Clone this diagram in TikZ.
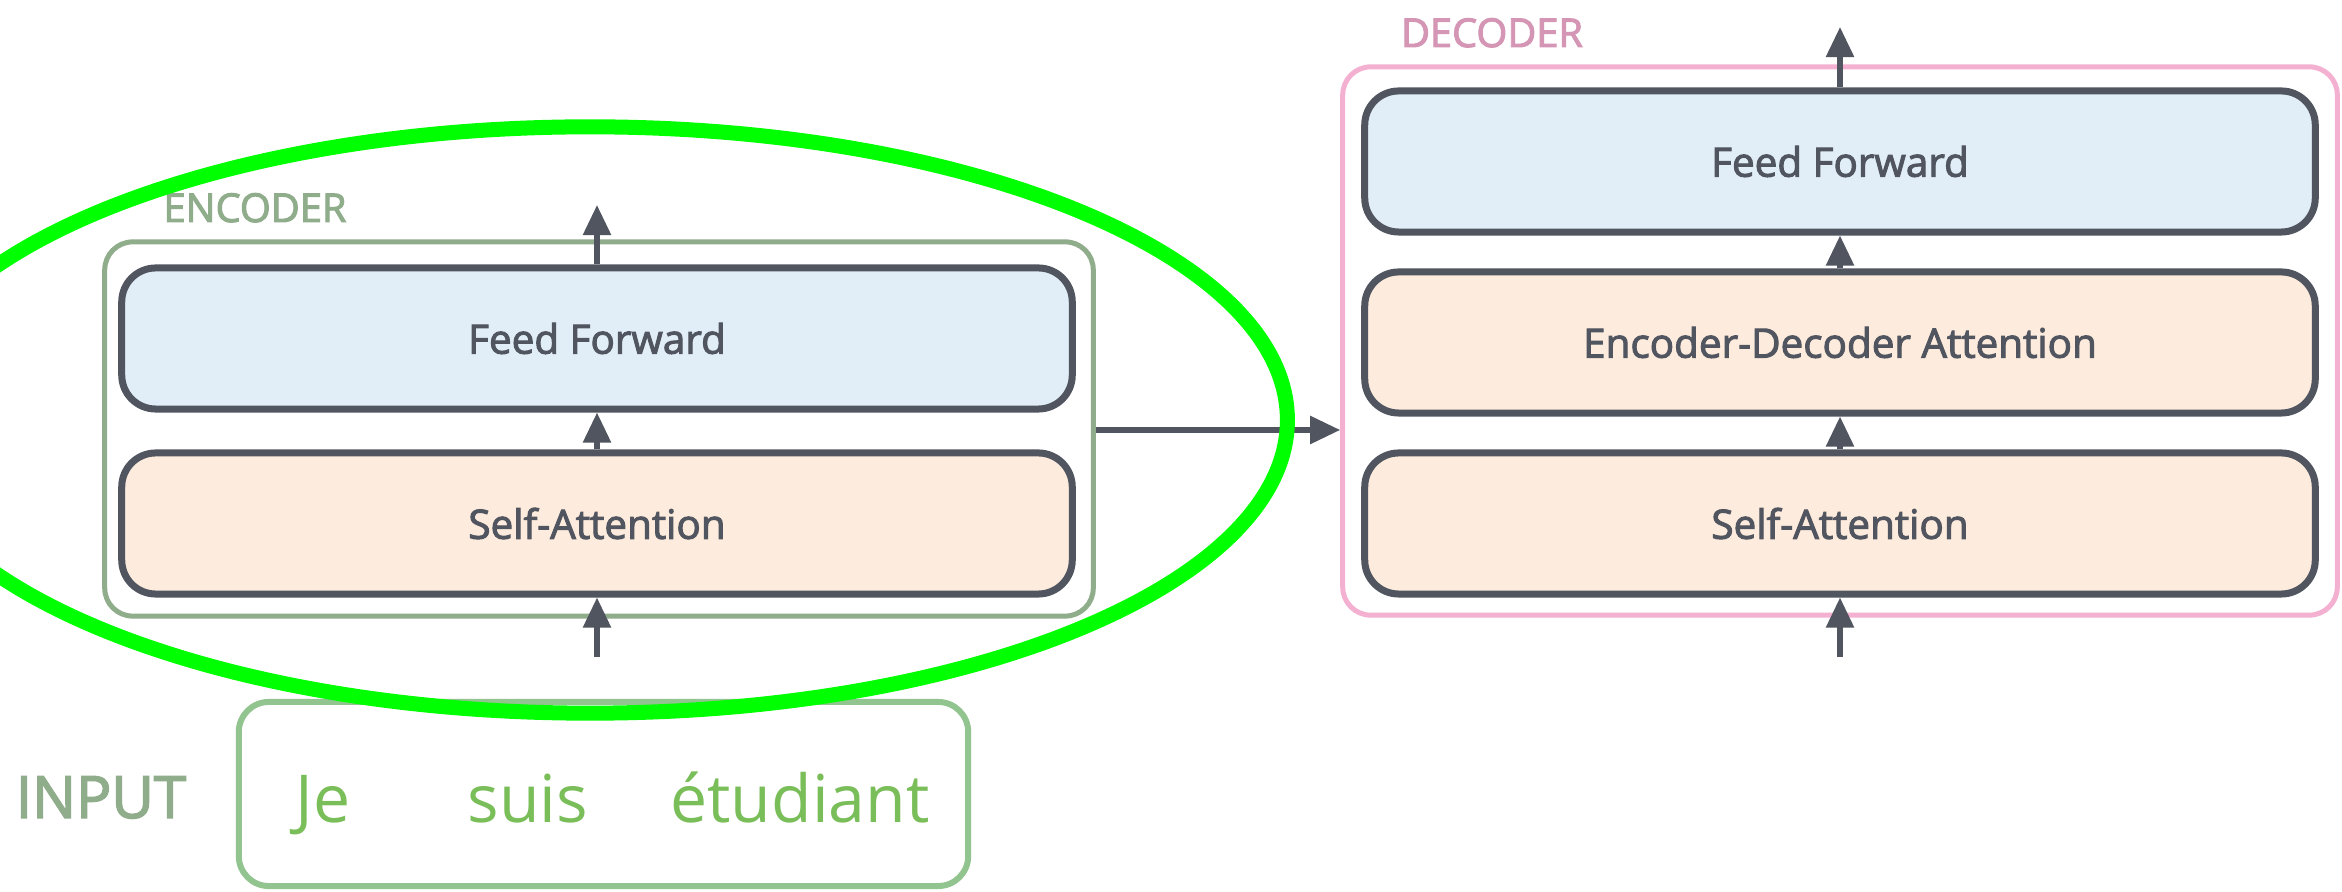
\documentclass[tikz,border=0pt]{standalone}
\usepackage{fontspec}
\setmainfont{Open Sans}
\newfontfamily\semifont{Open Sans}[FakeBold=2.5]
\usetikzlibrary{arrows.meta}
\definecolor{darkline}{RGB}{80,85,95}
\definecolor{fffill}{RGB}{225,238,248}
\definecolor{safill}{RGB}{253,235,221}
\definecolor{encline}{RGB}{143,172,139}
\definecolor{decline}{RGB}{243,176,208}
\definecolor{declabel}{RGB}{212,150,180}
\definecolor{enclabel}{RGB}{143,172,139}
\definecolor{inline}{RGB}{146,196,143}
\definecolor{wordcol}{RGB}{122,190,90}
\definecolor{ringgreen}{RGB}{0,255,0}
\tikzset{
  layerbox/.style={draw=darkline, line width=0.07cm, rounded corners=0.34cm,
    minimum width=9.50cm, minimum height=1.41cm, inner sep=0pt,
    text=darkline, font=\semifont\fontsize{11.5}{13}\selectfont},
  ffbox/.style={layerbox, fill=fffill},
  sabox/.style={layerbox, fill=safill},
  outerbox/.style={line width=0.05cm, rounded corners=0.28cm, inner sep=0pt},
  flow/.style={draw=darkline, line width=0.055cm, -{Triangle[length=0.30cm, width=0.27cm]}},
  tag/.style={font=\semifont\fontsize{11.3}{13}\selectfont, inner sep=0pt, anchor=base},
  word/.style={font=\fontsize{18.8}{22}\selectfont, text=wordcol, inner sep=0pt, anchor=base}
}
\begin{document}
\begin{tikzpicture}[x=0.01cm, y=-0.01cm]
\clip (0,0) rectangle (2342,892);
\fill[white] (0,0) rectangle (2342,892);

% encoder
\node[outerbox, draw=encline, minimum width=9.88cm, minimum height=3.74cm] (enc) at (599,429) {};
\node[tag, text=enclabel] (enclab) at (255,222) {ENCODER};
\node[ffbox] (encff) at (597,338.5) {Feed Forward};
\node[sabox] (encsa) at (597,523.5) {Self-Attention};
\coordinate (encout) at (597,205);
\coordinate (encin) at (597,657);
\draw[flow] (encff.north) -- (encout);
\draw[flow] (encsa.north) -- (encff.south);
\draw[flow] (encin) -- (encsa.south);

% decoder
\node[outerbox, draw=decline, minimum width=9.94cm, minimum height=5.48cm] (dec) at (1840,341) {};
\node[tag, text=declabel] (declab) at (1492,47) {DECODER};
\node[ffbox] (decff) at (1840,161.5) {Feed Forward};
\node[sabox] (decea) at (1840,342.5) {Encoder-Decoder Attention};
\node[sabox] (decsa) at (1840,523.5) {Self-Attention};
\coordinate (decout) at (1840,27);
\coordinate (decin) at (1840,657);
\draw[flow] (decff.north) -- (decout);
\draw[flow] (decea.north) -- (decff.south);
\draw[flow] (decsa.north) -- (decea.south);
\draw[flow] (decin) -- (decsa.south);

% encoder -> decoder
\draw[flow] (enc.east |- 0,430) -- (dec.west |- 0,430);

% input
\node[font=\semifont\fontsize{16.6}{20}\selectfont, text=enclabel, inner sep=0pt, anchor=base] (inlab) at (101,818) {INPUT};
\node[outerbox, draw=inline, line width=0.06cm, rounded corners=0.30cm, minimum width=7.29cm, minimum height=1.84cm] (inbox) at (603.5,794) {};
\node[word] (w1) at (323,823) {Je};
\node[word] (w2) at (528,823) {suis};
\node[word] (w3) at (800,823) {étudiant};

% highlight ring
\draw[ringgreen, line width=0.15cm] (590,420) ellipse [x radius=6.97cm, y radius=2.93cm];
\end{tikzpicture}
\end{document}
